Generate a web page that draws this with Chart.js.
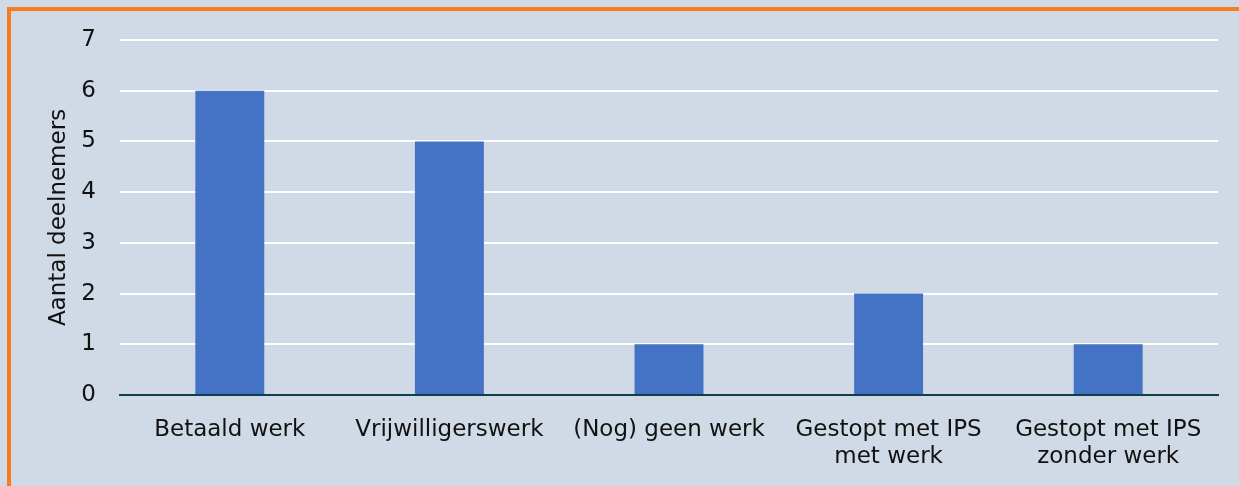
<!DOCTYPE html>
<html>
<head>
<meta charset="utf-8">
<script src="https://cdn.jsdelivr.net/npm/chart.js@4"></script>
<style>
  html, body { margin: 0; padding: 0; background: #D0DAE6; }
  #wrap { position: absolute; left: 0; top: 0; width: 1239px; height: 486px; }
  #frame { position: absolute; left: 7px; top: 7px; right: -10px; bottom: -10px;
           border-top: 4px solid #F57D20; border-left: 4px solid #F57D20; }
</style>
</head>
<body>
<div id="wrap">
  <div id="frame"></div>
  <canvas id="myChart" width="1239" height="486"></canvas>
</div>
<script>
var categories = [
  'Betaald werk',
  'Vrijwilligerswerk',
  '(Nog) geen werk',
  ['Gestopt met IPS', 'met werk'],
  ['Gestopt met IPS', 'zonder werk']
];
var deelnemers = [6, 5, 1, 2, 1];
var yTicks = [0, 1, 2, 3, 4, 5, 6, 7];
var yTitle = 'Aantal deelnemers';

var fontFam = '"DejaVu Sans", Verdana, sans-serif';

const ctx = document.getElementById('myChart').getContext('2d');
const myChart = new Chart(ctx, {
  type: 'bar',
  data: {
    labels: categories,
    datasets: [{
      label: yTitle,
      data: deelnemers,
      backgroundColor: '#4472C4',
      borderWidth: 0,
      barPercentage: 0.314,
      categoryPercentage: 1
    }]
  },
  options: {
    responsive: false,
    animation: false,
    layout: { padding: { top: 40, right: 21, left: 0, bottom: 0 } },
    plugins: { legend: { display: false }, tooltip: { enabled: false } },
    scales: {
      x: {
        grid: { display: false, drawTicks: false },
        border: { display: true, color: '#103F4C', width: 2 },
        ticks: {
          color: '#111',
          font: { family: fontFam, size: 23, lineHeight: 1.2 },
          padding: 21,
          maxRotation: 0,
          autoSkip: false
        },
        afterFit: function (s) { s.height = 91; }
      },
      y: {
        min: 0,
        max: yTicks[yTicks.length - 1],
        afterBuildTicks: function (s) {
          s.ticks = yTicks.map(function (v) { return { value: v }; });
        },
        grid: {
          color: function (c) { return c.tick.value === 0 ? 'rgba(0,0,0,0)' : '#FFFFFF'; },
          lineWidth: 2,
          drawTicks: false
        },
        border: { display: false },
        ticks: {
          color: '#111',
          font: { family: fontFam, size: 23 },
          padding: 24
        },
        title: {
          display: true,
          text: yTitle,
          color: '#111',
          font: { family: fontFam, size: 23, lineHeight: 1.2 },
          padding: { top: 45, bottom: 0 }
        },
        afterFit: function (s) { s.width = 120; }
      }
    }
  }
});
</script>
</body>
</html>
